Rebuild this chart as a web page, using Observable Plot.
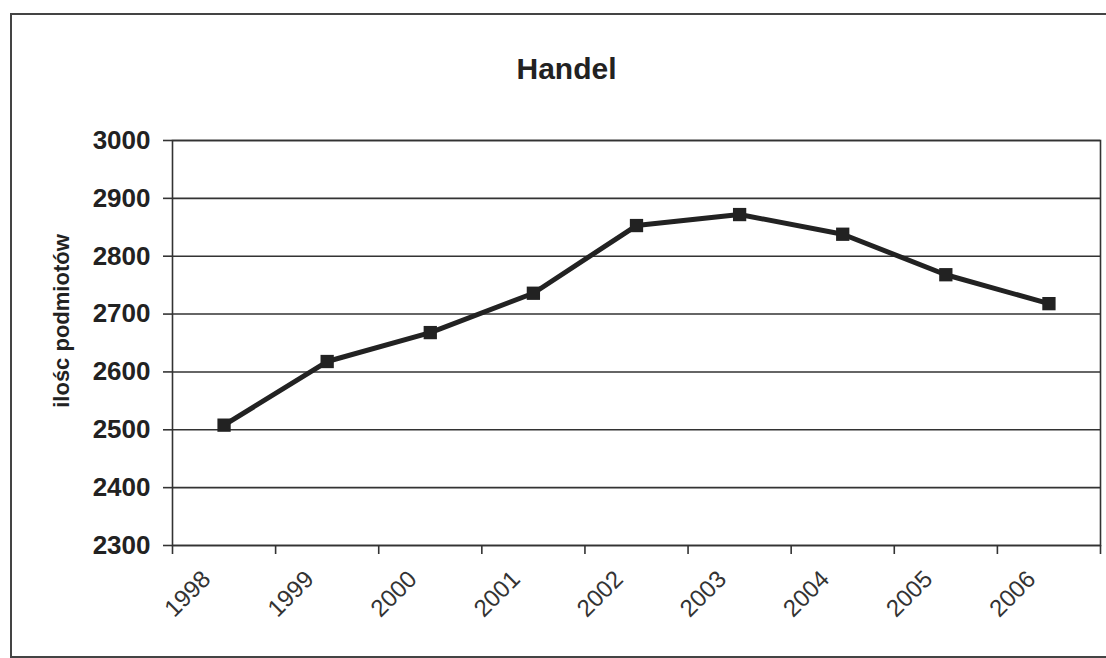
<!DOCTYPE html>
<html><head><meta charset="utf-8">
<script src="https://cdn.jsdelivr.net/npm/d3@7"></script>
<script src="https://cdn.jsdelivr.net/npm/@observablehq/plot@0.6"></script>
<style>
body{margin:0;background:#fff;}
#wrap{position:relative;width:1106px;height:658px;overflow:hidden;background:#fff;}
#border{position:absolute;left:10px;top:13px;width:1110px;height:641px;border:2px solid #444;}
#chart{position:absolute;left:0;top:0;}
</style>
</head><body>
<div id="wrap"><div id="border"></div><div id="chart"></div></div>
<script>
const years = ["1998","1999","2000","2001","2002","2003","2004","2005","2006"];
const values = [2508, 2618, 2668, 2736, 2853, 2872, 2838, 2768, 2718];
const yTicks = [2300, 2400, 2500, 2600, 2700, 2800, 2900, 3000];
const title = "Handel";
const yLabel = "ilośc podmiotów";

const data = years.map((year, i) => ({i, year, value: values[i]}));
const pos = d => d.i + 0.5;
const font = "'Liberation Sans', Arial, sans-serif";

const chart = Plot.plot({
  width: 1106,
  height: 658,
  marginLeft: 172,
  marginRight: 6,
  marginTop: 140,
  marginBottom: 113,
  style: {fontFamily: font, background: "transparent", color: "#222"},
  x: {type: "linear", domain: [0, years.length], axis: null},
  y: {domain: [2300, 3000], axis: null},
  marks: [
    Plot.gridY(yTicks, {stroke: "#333", strokeOpacity: 1, strokeWidth: 1.6}),
    Plot.frame({stroke: "#333", strokeWidth: 1.6}),
    Plot.axisY(yTicks, {tickSize: 9, tickPadding: 13, tickFormat: d => String(d), fontSize: 26, fontWeight: "bold", label: null, stroke: "#333", strokeWidth: 1.6}),
    Plot.axisX(d3.range(years.length + 1), {tickSize: 9, tickFormat: () => "", label: null, stroke: "#333", strokeWidth: 1.6}),
    Plot.lineY(data, {x: pos, y: "value", stroke: "#222", strokeWidth: 5}),
    Plot.dot(data, {x: pos, y: "value", symbol: "square", r: 7.5, fill: "#222", stroke: "none"}),
    Plot.text(data, {x: pos, text: "year", frameAnchor: "bottom", dx: -12, dy: 35, rotate: -45, textAnchor: "end", fontSize: 24, fill: "#333"}),
    Plot.text([title], {frameAnchor: "top", dx: -70, dy: -83, fontSize: 30, fontWeight: "bold", fill: "#222"}),
    Plot.text([yLabel], {frameAnchor: "left", textAnchor: "middle", dx: -111, dy: -22, rotate: -90, fontSize: 22, fontWeight: "bold", fill: "#222"})
  ]
});
document.getElementById("chart").appendChild(chart);
</script>
</body></html>
